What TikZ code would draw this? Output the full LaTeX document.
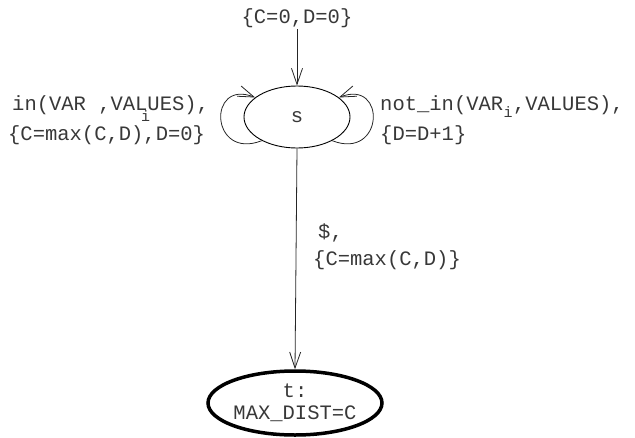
\documentclass[tikz,border=0pt]{standalone}
\usepackage{fontspec}
\setmainfont{Liberation Mono}
\usetikzlibrary{arrows.meta,shapes.geometric}
\begin{document}
\begin{tikzpicture}[x=1pt,y=-1pt,
  lbl/.style={font=\fontsize{20.5}{24}\selectfont, text=black!78, inner sep=0pt, anchor=base west},
  sub/.style={font=\fontsize{15}{18}\selectfont, text=black!78, inner sep=0pt, anchor=base west},
  stt/.style={draw=black, ellipse, inner sep=0pt, font=\fontsize{20.5}{24}\selectfont, text=black!78},
  arr/.style={line width=0.8pt, draw=black!85, -{Straight Barb[length=16pt,width=11pt,line width=0.8pt]}}]
\useasboundingbox (0,0) rectangle (635,437);
\node[stt, line width=0.9pt, minimum width=106pt, minimum height=62pt] (s) at (297,117) {s};
\node[stt, line width=3.5pt, minimum width=148pt, minimum height=64pt, align=center] (t) at (295,403) {t:\\[-2pt]MAX\_DIST=C};
\node[lbl, anchor=base, inner sep=2pt] (init) at (297,23) {\{C=0,D=0\}};
\draw[arr] (init.south) -- (s.north);
\draw[arr] (s.214) .. controls +(-52,20) and +(-48,-19) .. (s.155);
\draw[arr] (s.326) .. controls +(52,20) and +(48,-19) .. (s.25);
\draw[arr] (s.south) -- (t.north);
\node[lbl] (l1) at (12,110) {in(VAR ,VALUES),};
\node[sub] (l1i) at (141,121) {i};
\node[lbl] (l2) at (8,140) {\{C=max(C,D),D=0\}};
\node[lbl] (r1) at (380,110) {not\_in(VAR};
\node[sub] (r1i) at (r1.base east) [yshift=-7pt] {i};
\node[lbl] (r1b) at (r1i.base east) [yshift=7pt] {,VALUES),};
\node[lbl] (r2) at (380,140) {\{D=D+1\}};
\node[lbl] (e1) at (318,238) {\$,};
\node[lbl] (e2) at (313,265) {\{C=max(C,D)\}};
\end{tikzpicture}
\end{document}
